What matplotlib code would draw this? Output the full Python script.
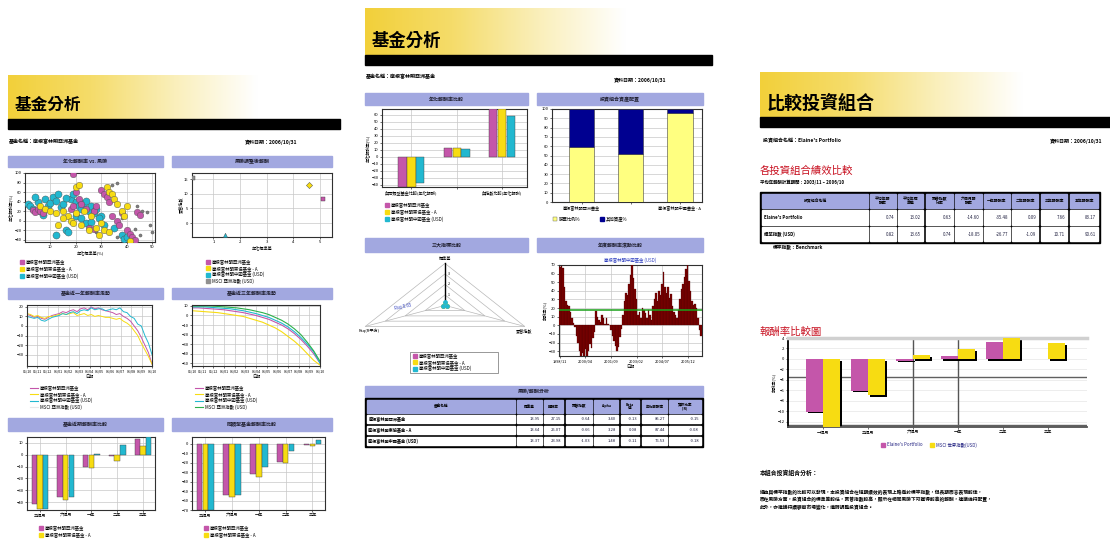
import numpy as np
import matplotlib.pyplot as plt
from matplotlib.patches import Rectangle, Polygon
from matplotlib.colors import LinearSegmentedColormap

plt.rcParams['font.family'] = ['Noto Sans CJK TC', 'DejaVu Sans']

# ---------------- data ----------------
funds = ['摩根富林明亞洲基金', '摩根富林明東協基金 - A', '摩根富林明中國基金 (USD)']
bench = 'MSCI 亞洲指數 (USD)'

# page 1 : return vs risk scatter
scat_cya = [(1, 35), (2, 30), (3, 25), (5, 40), (6, 20), (8, 45), (9, 30), (10, 38), (11, 50), (12, 42),
            (13, 55), (14, 28), (15, 35), (12, -30), (4, 50), (18, 45), (19, 55), (20, 40), (21, 30),
            (22, 25), (23, 38), (24, 42), (25, 20), (26, 30), (27, 15), (20, 10), (22, 5), (28, 25),
            (30, 10), (31, -10), (35, -15), (38, -30), (39, -38), (40, -35), (16, -20), (17, -25),
            (24, -5), (26, -2), (29, 5), (7, 12), (16, 48)]
scat_mag = [(3, 22), (4, 18), (5, 25), (6, 20), (7, 15), (19, 98), (20, 60), (21, 45), (22, 35),
            (24, 25), (27, 20), (28, 30), (30, 65), (31, 55), (32, 50), (33, 40), (34, 10), (36, 0),
            (37, -10), (38, 15), (40, -20), (41, -28), (42, -35), (43, -40), (44, 18), (45, 12),
            (25, -15), (27, -18), (18, 25), (19, 30)]
scat_yel = [(6, 30), (8, 25), (10, 20), (12, 15), (15, 20), (17, 10), (18, 0), (19, -5), (20, 15),
            (22, -10), (23, 20), (25, -20), (26, 10), (28, -15), (30, -5), (31, -20), (32, 70),
            (33, 60), (34, 55), (35, 45), (36, 35), (38, 20), (39, 10), (40, 30), (20, 70), (21, 75),
            (15, 5), (13, -10), (29, -30), (41, -42), (33, -25)]
scat_oth = [(44, 30), (46, 20), (48, 18), (49, -10), (50, -25), (43, -18), (45, -30), (38, 5),
            (36, -35), (34, 75), (36, 80), (28, -25)]

# page 1 : risk adjusted scatter (one point per fund + benchmark)
risk_x = [5.1, 4.6, 1.45, 0.25]
risk_y = [8.3, 13.1, -4.1, 15.5]

# page 1 : one-year return trend
trend_ticks = ['05/10', '05/11', '05/12', '06/01', '06/02', '06/03', '06/04',
               '06/05', '06/06', '06/07', '06/08', '06/09', '06/10']
trend1_mag = [12, 11, 9, 10, 8, 7, 9, 11, 12, 13, 15, 14, 16, 17, 15, 18, 19, 17, 20, 18,
              19, 17, 16, 15, 14, 12, 13, 10, 8, 5, 0, -5, -12, -20, -28, -40]
trend1_yel = [13, 12, 10, 11, 9, 8, 10, 10, 11, 12, 13, 12, 13, 14, 11, 12, 13, 11, 12, 10,
              11, 10, 9, 9, 8, 7, 8, 5, 3, 0, -5, -10, -18, -25, -32, -40]
trend1_cya = [10, 9, 8, 9, 6, 5, 7, 9, 10, 11, 13, 12, 14, 15, 13, 16, 17, 16, 19, 17,
              18, 18, 16, 17, 18, 17, 19, 15, 14, 10, 8, 2, 0, -10, -18, -30]

# page 1 : three-year return trend
trend3_mag = [8, 8, 7.5, 7, 6.5, 6, 5, 4, 3, 1.5, 0, -2, -4, -7, -10, -14, -19, -25, -32, -40, -50]
trend3_yel = [5, 4.5, 4, 3.5, 3, 2, 1, 0, -1, -3, -5, -7, -10, -13, -17, -22, -27, -33, -40, -47, -52]
trend3_cya = [9, 9, 9, 8.5, 8, 7.5, 7, 6, 5, 3.5, 2, 0, -2, -5, -8, -12, -17, -23, -30, -38, -50]
trend3_grn = [10, 10, 10, 10, 9.5, 9, 8.5, 8, 7, 6, 4.5, 3, 1, -2, -5, -9, -14, -20, -28, -37, -48]

# page 1 : period returns
periods = ['三個月', '六個月', '一年', '二年', '三年']
per1_mag = [-41.5, -35.6, -10, -1, 13.5]
per1_yel = [-46, -38, -11.5, -5.5, 7.6]
per1_cya = [-46, -35.6, 0.5, 8.5, 15]
per3_mag = [-70, -54, -32, -19, -1.5]
per3_yel = [-70, -56, -35, -20.5, -2]
per3_cya = [-70, -54, -24.5, -7.5, 4]

# page 2 : annual return comparison
cmp_groups = ['與同類型基金比較(年化報酬)', '', '與指數比較(年化報酬)']
cmp_mag = [-43, 13, 68]
cmp_yel = [-43, 13, 68]
cmp_cya = [-37, 11, 58]

# page 2 : asset allocation
alloc_names = ['摩根富林明亞洲基金', '', '摩根富林明中國基金 - A']
alloc_stock = [59, 52, 96]
alloc_other = [41, 48, 4]

# page 2 : radar (標準差, Rsq, 夏普指數)
radar_axes = ['標準差', 'Rsq(R平方)', '夏普指數']
radar_mag = [0.04, 0.02, 0.02]
radar_yel = [0.05, 0.02, 0.02]
radar_cya = [0.07, 0.02, 0.02]

# page 2 : monthly rolling return
monthly_ret = [68, 69, 66, 45, 28, 24, 22, 15, 8, 3, -2, -12, -20, -30, -38, -32, -36, -28, -38, -30,
               -22, -26, -15, -8, 17, 10, 6, 4, 12, 8, 2, 9, 1, 0, -6, -12, -18, -24, -30, -25,
               -14, -4, 12, 28, 38, 35, 48, 58, 70, 55, 42, 30, 12, 16, 8, 20, 18, 14, 9, 18,
               12, 6, 22, 30, 38, 28, 40, 35, 48, 62, 44, 38, 45, 32, 36, 22, 15, 12, 8, 18,
               30, 42, 48, 56, 65, 70, 52, 40, 28, 24, 25, 20, 8, -5, -12]
monthly_avg = 17.6
monthly_ticks = ['1998/11', '2000/04', '2001/09', '2003/02', '2004/07', '2005/12']

# page 2 : risk table
tbl2_cols = ['基金名稱', '標準差', '報酬率', '夏普指數', 'Alpha', 'Beta\n值', '年化報酬率', '資訊比率\n(IR)']
tbl2_rows = [['摩根富林明亞洲基金', '13.95', '27.15', '-0.64', '3.40', '-0.13', '85.27', '-0.15'],
             ['摩根富林明東協基金 - A', '13.64', '25.07', '-0.66', '3.28', '0.08', '87.44', '-0.08'],
             ['摩根富林明中國基金 (USD)', '13.37', '23.98', '-1.03', '1.48', '-0.11', '76.53', '-0.18']]

# page 3 : portfolio table
tbl3_cols = ['投資組合名稱', '平均年報\n酬率', '平均年標\n準差', '夏普指數\n比率', '六個月報\n酬率',
             '一年報酬率', '二年報酬率', '三年報酬率', '五年報酬率']
tbl3_rows = [["Elaine's Portfolio", '0.74', '13.02', '0.63', '-14.60', '-35.48', '0.09', '7.66', '83.17'],
             ['標竿指數 (USD)', '0.82', '13.65', '0.74', '-18.05', '-26.77', '-1.09', '10.71', '90.61']]

# page 3 : return comparison
cmp3_periods = ['一個月', '三個月', '六個月', '一年', '二年', '三年']
cmp3_port = [-10.1, -6.1, -0.3, 0.5, 3.2, 0.0]
cmp3_bench = [-13.5, -6.9, 0.7, 1.9, 4.5, 3.0]

# ---------------- styles ----------------
MAG, YEL, CYA, GRN = '#C456AA', '#F7DC12', '#22B8D0', '#2DB04A'
LAV = '#A2A8E0'
GRID = '#C8C8C8'
W, H = 1110, 539

fig = plt.figure(figsize=(W / 100, H / 100), dpi=100)
bg = fig.add_axes([0, 0, 1, 1])
bg.set_xlim(0, W)
bg.set_ylim(H, 0)
bg.axis('off')

grad = LinearSegmentedColormap.from_list('g', ['#F2D03A', '#F5DC6A', '#FAEFBA', '#FFFFFF', '#FFFFFF'])


def px_axes(x0, y0, x1, y1):
    return fig.add_axes([x0 / W, 1 - y1 / H, (x1 - x0) / W, (y1 - y0) / H])


def style(ax, gx=True, gy=True):
    ax.tick_params(labelsize=3, length=1.5, width=0.4, pad=1)
    for s in ax.spines.values():
        s.set_linewidth(0.8)
        s.set_color('#303030')
    if gx:
        ax.grid(True, axis='x', color=GRID, lw=0.5)
    if gy:
        ax.grid(True, axis='y', color=GRID, lw=0.5)
    ax.set_axisbelow(True)


def page_head(x0, x1, y0, y1, bar_x1, title, fs):
    bg.imshow(np.linspace(0, 1, 256)[None, :], cmap=grad, extent=(x0, x1, y1, y0), aspect='auto', zorder=1)
    bg.add_patch(Rectangle((x0, y1), bar_x1 - x0, 10, color='black', zorder=2))
    bg.text(x0 + 7, y1 - 14, title, fontsize=fs, fontweight='black', va='center', zorder=3)


def section(x0, y0, x1, y1, text):
    bg.add_patch(Rectangle((x0, y0), x1 - x0, y1 - y0, color=LAV, zorder=2))
    bg.text((x0 + x1) / 2, (y0 + y1) / 2, text, fontsize=3.6, fontweight='bold',
            ha='center', va='center', color='#202030', zorder=3)


def legend(x, y, names, colors, kind='s', dy=6.5, fs=3.2):
    for i, (n, c) in enumerate(zip(names, colors)):
        yy = y + i * dy
        if kind == 'line':
            bg.plot([x, x + 8], [yy, yy], color=c, lw=0.8, zorder=3)
            bg.text(x + 10, yy, n, fontsize=fs, va='center', zorder=3)
        else:
            bg.add_patch(Rectangle((x, yy - 2), 4, 4, color=c, zorder=3))
            bg.text(x + 6, yy, n, fontsize=fs, va='center', zorder=3)


def table(cols, rows, xs, ys, frame, fs=3):
    fx0, fy0, fx1, fy1 = frame
    bg.add_patch(Rectangle((fx0, fy0), fx1 - fx0, fy1 - fy0, color='black', zorder=2))
    for r, (ya, yb) in enumerate(ys):
        cells = cols if r == 0 else rows[r - 1]
        for c, (xa, xb) in enumerate(xs):
            bg.add_patch(Rectangle((xa, ya), xb - xa, yb - ya, color=LAV if r == 0 else 'white', zorder=3))
            if c == 0 and r > 0:
                bg.text(xa + 1.5, (ya + yb) / 2, cells[c], fontsize=fs, fontweight='bold',
                        va='center', ha='left', zorder=4)
            elif r == 0:
                bg.text((xa + xb) / 2, (ya + yb) / 2, cells[c], fontsize=fs - 0.4, fontweight='bold',
                        va='center', ha='center', linespacing=0.9, zorder=4)
            else:
                bg.text(xb - 2, (ya + yb) / 2, cells[c], fontsize=fs, va='center', ha='right',
                        color='#202040', zorder=4)


# ================= page 1 =================
page_head(8, 340, 75, 119, 340, '基金分析', 12)
bg.text(9, 142, '基金名稱：摩根富林明亞洲基金', fontsize=3.6, fontweight='bold', va='center')
bg.text(245, 142, '資料日期：2006/10/31', fontsize=3.6, fontweight='bold', va='center')
section(8, 156, 163, 167, '年化報酬率 vs. 風險')
section(172, 156, 332, 167, '風險調整後報酬')
section(8, 288, 163, 299, '基金近一年報酬率走勢')
section(172, 288, 332, 299, '基金近三年報酬率走勢')
section(8, 418, 163, 431, '基金近期報酬率比較')
section(172, 418, 332, 431, '同類型基金報酬率比較')

ax = px_axes(25, 173, 155, 242)
style(ax)
for pts, c, s in [(scat_oth, '#808080', 5), (scat_cya, CYA, 26), (scat_mag, MAG, 22), (scat_yel, YEL, 22)]:
    xs, ys = zip(*pts)
    ax.scatter(xs, ys, s=s, color=c, edgecolors='#505050', linewidths=0.3, zorder=3)
ax.set_xlim(0, 51)
ax.set_ylim(-45, 100)
ax.set_xticks([10, 20, 30, 40, 50])
ax.set_yticks([-40, -20, 0, 20, 40, 60, 80, 100])
ax.set_xlabel('年化標準差(%)', fontsize=3, labelpad=1)
ax.set_ylabel('年化報酬率(%)', fontsize=3, labelpad=1)
legend(20, 262, funds, [MAG, YEL, CYA], dy=7)

ax = px_axes(192, 173, 332, 237)
style(ax)
for x, y, c, m in zip(risk_x, risk_y, [MAG, YEL, CYA, '#909090'], ['s', 'D', '^', 's']):
    ax.scatter([x], [y], s=10, marker=m, color=c, edgecolors='#404040', linewidths=0.3, zorder=3)
ax.set_xlim(0.2, 5.45)
ax.set_ylim(-4.8, 17.2)
ax.set_xticks([1, 2, 3, 4, 5])
ax.set_yticks([0, 5, 10, 15])
ax.set_xlabel('年化標準差', fontsize=3, labelpad=1)
ax.set_ylabel('夏普指數', fontsize=3, labelpad=1)
legend(206, 262, funds + [bench], [MAG, YEL, CYA, '#909090'], dy=6.3)

ax = px_axes(27, 305, 152, 366)
style(ax)
for d, c in [(trend1_mag, MAG), (trend1_yel, YEL), (trend1_cya, CYA)]:
    ax.plot(range(len(d)), d, color=c, lw=0.7)
ax.set_xlim(0, len(trend1_mag) - 1)
ax.set_ylim(-42, 22)
ax.set_yticks([-30, -20, -10, 0, 10, 20])
ax.set_xticks(np.linspace(0, len(trend1_mag) - 1, len(trend_ticks)))
ax.set_xticklabels(trend_ticks, fontsize=2.6)
ax.set_xlabel('日期', fontsize=3, labelpad=1)
legend(30, 388, funds + [bench], [MAG, YEL, CYA, '#E8E8E8'], kind='line', dy=6.3)

ax = px_axes(192, 305, 320, 366)
style(ax)
for d, c in [(trend3_yel, YEL), (trend3_mag, MAG), (trend3_cya, CYA), (trend3_grn, GRN)]:
    ax.plot(range(len(d)), d, color=c, lw=0.8)
ax.set_xlim(0, len(trend3_mag) - 1)
ax.set_ylim(-53, 11)
ax.set_yticks([-50, -40, -30, -20, -10, 0, 10])
ax.set_xticks(np.linspace(0, len(trend3_mag) - 1, len(trend_ticks)))
ax.set_xticklabels(trend_ticks, fontsize=2.6)
ax.set_xlabel('日期', fontsize=3, labelpad=1)
legend(195, 388, funds + [bench], [MAG, YEL, CYA, GRN], kind='line', dy=6.3)

for box, dm, dy_, dc, lim, ticks in [((27, 437, 155, 510), per1_mag, per1_yel, per1_cya, (-46.6, 15), range(-40, 20, 10)),
                                     ((192, 437, 325, 510), per3_mag, per3_yel, per3_cya, (-70, 7), range(-70, 10, 10))]:
    ax = px_axes(*box)
    style(ax)
    x = np.arange(len(periods))
    for k, (d, c) in enumerate([(dm, MAG), (dy_, YEL), (dc, CYA)]):
        ax.bar(x + (k - 1) * 0.22, d, width=0.21, color=c, edgecolor='#404040', linewidth=0.3, zorder=3)
    ax.set_xlim(-0.5, 4.47)
    ax.set_ylim(*lim)
    ax.set_yticks(list(ticks))
    ax.set_xticks(x)
    ax.set_xticklabels(periods)
    legend(box[0] + 12, 528, funds[:2], [MAG, YEL], dy=7)

# ================= page 2 =================
page_head(365, 712, 8, 55, 712, '基金分析', 12.5)
bg.text(366, 77, '基金名稱：摩根富林明亞洲基金', fontsize=3.6, fontweight='bold', va='center')
bg.text(614, 80, '資料日期：2006/10/31', fontsize=3.6, fontweight='bold', va='center')
section(365, 93, 528, 105, '年化報酬率比較')
section(537, 93, 703, 105, '投資組合資產配置')
section(365, 238, 528, 252, '三大指標比較')
section(537, 238, 703, 252, '年度報酬率滾動比較')

ax = px_axes(382, 109, 527, 187)
style(ax)
x = np.arange(len(cmp_groups))
for k, (d, c) in enumerate([(cmp_mag, MAG), (cmp_yel, YEL), (cmp_cya, CYA)]):
    ax.bar(x + (k - 1) * 0.195, d, width=0.185, color=c, edgecolor='#404040', linewidth=0.3, zorder=3)
ax.set_xlim(-0.65, 2.55)
ax.set_ylim(-43, 68)
ax.set_yticks(range(-40, 70, 10))
ax.set_xticks(x)
ax.set_xticklabels(cmp_groups, fontsize=3)
ax.set_ylabel('年化報酬率(%)', fontsize=3, labelpad=1)
legend(385, 205, funds, [MAG, YEL, CYA], dy=7)

ax = px_axes(552, 109, 702, 202)
style(ax, gx=False)
x = np.arange(len(alloc_stock))
ax.bar(x, alloc_stock, width=0.52, color='#FFFF80', edgecolor='#404040', linewidth=0.4, zorder=3)
ax.bar(x, alloc_other, bottom=alloc_stock, width=0.52, color='#000090', edgecolor='#404040',
       linewidth=0.4, zorder=3)
ax.set_xlim(-0.6, 2.45)
ax.set_ylim(0, 100)
ax.set_yticks(range(0, 101, 10))
ax.set_xticks(x)
ax.set_xticklabels(alloc_names, fontsize=3)
bg.add_patch(Rectangle((553, 217), 4, 4, color='#FFFF80', ec='#606060', lw=0.3, zorder=3))
bg.text(559, 219, '股票比例%', fontsize=3.2, va='center')
bg.add_patch(Rectangle((600, 217), 4, 4, color='#000090', zorder=3))
bg.text(606, 219, '其他資產%', fontsize=3.2, va='center')

# radar
ax = px_axes(353, 255, 537, 339)
ax.axis('off')
ax.set_xlim(-1, 1)
ax.set_ylim(-0.8, 1.2)
ang = np.deg2rad([90, 210, 330])
for r in [0.25, 0.5, 0.75, 1.0]:
    ax.add_patch(Polygon(np.c_[r * np.cos(ang), r * np.sin(ang)], closed=True, fill=False,
                         ec='#B8B8B8', lw=0.5))
for a in ang[1:]:
    ax.plot([0, np.cos(a)], [0, np.sin(a)], color='#B8B8B8', lw=0.5)
ax.plot([0, 0], [0, 1], color='black', lw=1.0)
for r, t in zip([0.25, 0.5, 0.75], ['1', '2', '3']):
    ax.text(0.03, r, t, fontsize=2.6, va='center')
ax.text(0, 1.1, radar_axes[0], fontsize=3, ha='center', va='center')
ax.text(-0.82, -0.6, radar_axes[1], fontsize=3, ha='center', va='center')
ax.text(0.86, -0.6, radar_axes[2], fontsize=3, ha='center', va='center')
for d, c in [(radar_mag, MAG), (radar_yel, YEL), (radar_cya, CYA)]:
    pts = np.c_[np.array(d) * np.cos(ang), np.array(d) * np.sin(ang)]
    ax.add_patch(Polygon(pts, closed=True, fill=False, ec=c, lw=0.6))
    ax.scatter(pts[:, 0], pts[:, 1], s=6, color=c, zorder=3)
ax.text(-0.55, -0.12, 'Rsq 0.65', fontsize=3.2, color='#3040C0', rotation=12)
bg.add_patch(Rectangle((410, 352), 88, 21, fill=False, ec='#707070', lw=0.5))
legend(413, 356, funds, [MAG, YEL, CYA], dy=6.3)

# monthly rolling return
bg.text(630, 260, '摩根富林明中國基金 (USD)', fontsize=3.2, color='#3040C0', ha='center', va='center')
ax = px_axes(559, 265, 702, 356)
style(ax)
x = np.arange(len(monthly_ret))
ax.bar(x, monthly_ret, width=1.0, color='#7A0000', edgecolor='#4A0000', linewidth=0.2, zorder=3)
ax.axhline(monthly_avg, color='#1AA01A', lw=1.1, zorder=4)
ax.set_xlim(-0.5, len(monthly_ret) - 0.5)
ax.set_ylim(-35.6, 70)
ax.set_yticks(range(-30, 80, 10))
ax.set_xticks(np.linspace(0, 85, len(monthly_ticks)))
ax.set_xticklabels(monthly_ticks, fontsize=2.8)
ax.set_xlabel('日期', fontsize=3, labelpad=1)
ax.set_ylabel('報酬率(%)', fontsize=3, labelpad=1)

section(365, 386, 703, 397, '風險/報酬分析')
table(tbl2_cols, tbl2_rows,
      [(367, 515), (517, 542), (544, 563), (566, 592), (594, 618), (621, 639), (642, 667), (669, 701)],
      [(400, 413), (415, 423), (426, 434), (437, 445)], (365, 398, 703, 447), fs=3)

# ================= page 3 =================
page_head(760, 1110, 72, 117, 1110, '比較投資組合', 13)
bg.text(763, 141, '投資組合名稱：Elaine\'s Portfolio', fontsize=3.6, fontweight='bold', va='center')
bg.text(1050, 141, '資料日期：2006/10/31', fontsize=3.6, fontweight='bold', va='center')
bg.text(760, 171, '各投資組合績效比較', fontsize=7.5, color='#C81020', va='center')
bg.text(760, 182, '平均年報酬計算期間：2003/11 ~ 2006/10', fontsize=3.2, fontweight='bold', va='center')
table(tbl3_cols, tbl3_rows,
      [(762, 868), (870, 896), (898, 923), (926, 953), (955, 982), (984, 1010), (1012, 1038),
       (1041, 1067), (1070, 1098)],
      [(194, 208), (210, 225), (227, 241)], (760, 192, 1100, 243), fs=3.2)
bg.text(773, 248, '標竿指數：Benchmark', fontsize=3.4, fontweight='bold', va='center')

bg.text(760, 332, '報酬率比較圖', fontsize=7.5, color='#C81020', va='center')
ax = px_axes(788, 338, 1087, 427)
x = np.arange(len(cmp3_periods))
bw = 0.38
for off, d, c in [(-bw / 2, cmp3_port, MAG), (bw / 2, cmp3_bench, YEL)]:
    ax.bar(x + off + 0.045, np.array(d), bottom=-0.3, width=bw, color='black', zorder=2)
    ax.bar(x + off, d, width=bw, color=c, zorder=3)
ax.axvline(2, color='#555555', lw=1.0, zorder=1)
ax.axvline(3, color='#555555', lw=1.0, zorder=1)
ax.axhline(-3.5, color='#606060', lw=1.0, zorder=1)
ax.axhline(-12.6, color='#606060', lw=1.0, zorder=1)
ax.set_xlim(-0.78, 5.87)
ax.set_ylim(-13, 4)
ax.set_yticks([4, 2, 0, -2, -4, -6, -8, -10, -12])
ax.grid(True, axis='y', color='#E6E6E6', lw=0.5)
ax.set_axisbelow(True)
ax.tick_params(labelsize=3, length=1.5, width=0.4, pad=1)
ax.set_xticks(x)
ax.set_xticklabels(cmp3_periods)
ax.spines['right'].set_visible(False)
ax.spines['top'].set_color('#D0D0D0')
ax.spines['top'].set_linewidth(2.5)
ax.spines['left'].set_linewidth(1.3)
ax.spines['bottom'].set_linewidth(1.3)
ax.spines['bottom'].set_color('#505050')
ax.set_ylabel('報酬率(%)', fontsize=3, labelpad=1)
bg.add_patch(Rectangle((881, 443), 4, 4, color=MAG, zorder=3))
bg.text(887, 445, "Elaine's Portfolio", fontsize=3.2, color='#202080', va='center')
bg.add_patch(Rectangle((930, 443), 4, 4, color=YEL, zorder=3))
bg.text(936, 445, 'MSCI 世界指數(USD)', fontsize=3.2, color='#202080', va='center')

bg.text(760, 473, '本組合投資組合分析：', fontsize=4.2, fontweight='bold', va='center')
para = ['經由與標竿指數的比較可以發現，本投資組合在短期績效的表現上略遜於標竿指數，但長期而言表現較佳，',
        '而在風險方面，投資組合的標準差較低，夏普指數較高，顯示在相同風險下可獲得較高的報酬，建議維持配置，',
        '此外，亦建議持續觀察市場變化，適時調整投資組合。']
for i, line in enumerate(para):
    bg.text(760, 492 + i * 7.5, line, fontsize=3.4, fontweight='bold', va='center')

bg.set_xlim(0, W)
bg.set_ylim(H, 0)
fig.savefig('out.png', dpi=100, facecolor='white')
